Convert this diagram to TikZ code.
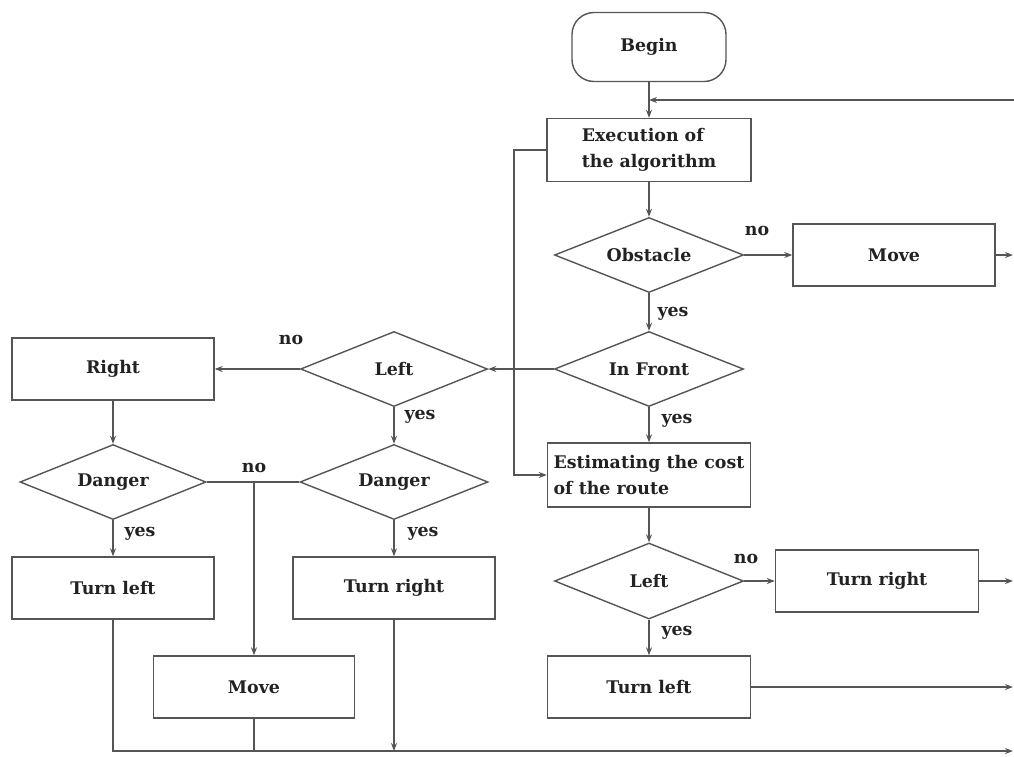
\documentclass[tikz,border=0pt]{standalone}
\usepackage{fontspec}
\setmainfont{DejaVu Serif}
\usetikzlibrary{shapes.geometric,arrows.meta}
\definecolor{lc}{HTML}{555555}
\definecolor{tc}{HTML}{222222}
\begin{document}
\begin{tikzpicture}[x=1pt,y=-1pt,
  every node/.style={font=\fontsize{17.4}{26}\selectfont\bfseries, text=tc},
  box/.style={draw=lc, line width=1.4pt, line join=miter, minimum width=203pt, minimum height=62pt, inner sep=0pt, align=left},
  dia/.style={draw=lc, line width=1.4pt, diamond, aspect=2.5, minimum width=189pt, minimum height=75pt, inner sep=0pt},
  term/.style={draw=lc, line width=1.4pt, rounded corners=22pt, minimum width=154pt, minimum height=69pt},
  ln/.style={draw=lc, line width=1.4pt},
  arr/.style={ln, -{Stealth[length=8pt,width=6pt]}},
  lab/.style={inner sep=0pt}]
\useasboundingbox (0,0) rectangle (1014,756);
% main column
\node[term] (begin) at (649,47) {Begin};
\node[box, minimum width=204pt, minimum height=63pt] (exec) at (649,150) {Execution of\\the algorithm};
\node[dia] (obst) at (649,255) {Obstacle};
\node[box, minimum width=202pt] (move1) at (894,255) {Move};
\node[dia] (front) at (649,369) {In Front};
\node[box, minimum height=64pt] (est) at (649,475) {Estimating the cost\\of the route};
\node[dia, minimum height=76pt] (left2) at (649,581) {Left};
\node[box] (tright2) at (877,581) {Turn right};
\node[box] (tleft2) at (649,687) {Turn left};
% left part
\node[dia, minimum width=187pt] (left1) at (394,369) {Left};
\node[box, minimum width=202pt] (right) at (113,369) {Right};
\node[dia, minimum width=186pt] (dang1) at (113,482) {Danger};
\node[dia, minimum width=188pt] (dang2) at (394,482) {Danger};
\node[box, minimum width=202pt] (tleft1) at (113,588) {Turn left};
\node[box, minimum width=202pt] (tright1) at (394,588) {Turn right};
\node[box, minimum width=201pt] (move2) at (254,687) {Move};
% free ends
\coordinate (eTop) at (1014,100);
\coordinate (eMove) at (1013,255);
\coordinate (eTR) at (1013,581);
\coordinate (eTL) at (1013,687);
\coordinate (eBot) at (1013,751);
\coordinate (fb) at (514,150);
\coordinate (nojoin) at (254,482);
% connectors
\draw[arr] (begin) -- (exec);
\draw[arr] (eTop) -- (eTop -| begin.south);
\draw[arr] (exec) -- (obst);
\draw[arr] (obst) -- (move1);
\draw[arr] (move1) -- (eMove);
\draw[arr] (obst) -- (front);
\draw[arr] (front) -- (est);
\draw[arr] (exec.west) -- (fb) |- (est.west);
\draw[arr] (est) -- (left2);
\draw[arr] (left2) -- (tright2);
\draw[arr] (tright2) -- (eTR);
\draw[arr] (left2) -- (tleft2);
\draw[arr] (tleft2) -- (eTL);
\draw[arr] (front) -- (left1);
\draw[arr] (left1) -- (right);
\draw[arr] (right) -- (dang1);
\draw[arr] (left1) -- (dang2);
\draw[ln] (dang1) -- (dang2);
\draw[arr] (nojoin) -- (move2);
\draw[arr] (dang1) -- (tleft1);
\draw[arr] (dang2) -- (tright1);
\draw[arr] (tleft1.south) |- (eBot);
\draw[ln] (move2.south) -- (move2.south |- eBot);
\draw[arr] (tright1.south) -- (tright1.south |- eBot);
% labels
\node[lab] (no1) at (757,231) {no};
\node[lab] (yes1) at (673,314) {yes};
\node[lab] (yes2) at (677,421) {yes};
\node[lab] (no2) at (746,559) {no};
\node[lab] (yes3) at (677,633) {yes};
\node[lab] (no3) at (291,340) {no};
\node[lab] (yes4) at (420,417) {yes};
\node[lab] (no4) at (254,468) {no};
\node[lab] (yes5) at (140,534) {yes};
\node[lab] (yes6) at (423,534) {yes};
\end{tikzpicture}
\end{document}
